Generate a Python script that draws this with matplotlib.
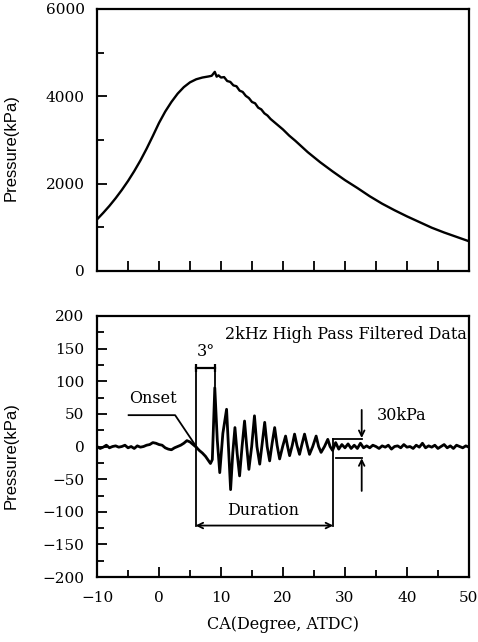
import matplotlib
matplotlib.use("Agg")
import matplotlib.pyplot as plt
from matplotlib.ticker import MultipleLocator

plt.rcParams['font.family'] = ['DejaVu Serif']

# ---- Top panel: cylinder pressure ----
ca_top = [-10, -9, -8, -7, -6, -5, -4, -3, -2, -1, 0, 1, 2, 3, 4, 5, 6, 7, 8, 8.5, 9,
          9.3, 9.6, 10, 10.5, 11, 11.5, 12, 12.5, 13, 13.5, 14, 14.5, 15, 15.5, 16,
          16.5, 17, 17.5, 18, 19, 20, 21, 22, 24, 26, 28, 30, 32, 34, 36, 38, 40, 42,
          44, 46, 48, 50]
p_top = [1180, 1330, 1490, 1665, 1855, 2060, 2285, 2530, 2800, 3090, 3390, 3650, 3870,
         4060, 4210, 4320, 4390, 4430, 4455, 4470, 4560, 4450, 4480, 4430, 4440, 4350,
         4330, 4250, 4230, 4130, 4100, 4010, 3960, 3870, 3840, 3740, 3700, 3610, 3560,
         3480, 3360, 3240, 3100, 2980, 2720, 2490, 2280, 2080, 1900, 1710, 1540, 1390,
         1250, 1120, 990, 880, 780, 680]

# ---- Bottom panel: 2 kHz high-pass filtered pressure ----
ca_bot = [-10, -9.5, -9, -8.5, -8, -7.5, -7, -6.5, -6, -5.5, -5, -4.5, -4, -3.5, -3,
          -2.5, -2, -1.5, -1, -0.5, 0, 0.5, 1, 1.5, 2, 2.5, 3, 3.5, 4, 4.5, 5, 5.5, 6,
          6.5, 7, 7.5, 8, 8.3, 8.6, 9.0, 9.4, 9.8, 10.3, 10.9, 11.2, 11.55, 11.9, 12.25,
          12.6, 13.0, 13.4, 13.8, 14.15, 14.5, 14.95, 15.4, 15.8, 16.25, 16.65, 17.05,
          17.45, 17.85, 18.25, 18.66, 19.05, 19.46, 19.95, 20.42, 20.75, 21.07, 21.5,
          21.87, 22.25, 22.67, 23.05, 23.48, 23.9, 24.28, 24.8, 25.35, 25.75, 26.15,
          26.7, 27.23, 27.6, 28.0, 28.5, 29, 29.5, 30, 30.5, 31, 31.5, 32, 32.5, 33,
          33.5, 34, 34.5, 35, 35.5, 36, 36.5, 37, 37.5, 38, 38.5, 39, 39.5, 40, 40.5,
          41, 41.5, 42, 42.5, 43, 43.5, 44, 44.5, 45, 45.5, 46, 46.5, 47, 47.5, 48,
          48.5, 49, 49.5, 50]
p_bot = [0, -3, -1, 2, -2, 0, 1, -1, 0, 2, -2, 0, -3, 1, -1,
         0, 2, 3, 6, 5, 3, 2, -2, -4, -5, -2, 0, 2, 5, 9, 7, 3, -1,
         -6, -10, -15, -22, -26, -20, 90, 10, -40, 20, 57, 0, -66, -10, 29,
         -10, -45, 0, 39, 0, -35, 0, 47, 0, -27, 5, 37,
         0, -22, 5, 29, 2, -19, 0, 16, 0, -14, 2,
         19, 2, -12, 3, 19, 2, -12, 0, 16, 0, -9,
         0, 11, 0, -6, 6, -4, 3, -2, 4, -3, 2, -3, 5, -2,
         1, -2, 2, 0, -3, 1, -1, 2, -4, 0, 1, -2, 3, -1, 0,
         -3, 2, -1, 5, -2, 1, -1, 2, -3, 0, 3, -2, 1, -3, 2,
         0, -2, 1, -1]

fig = plt.figure(figsize=(4.78, 6.42), dpi=100)
ax1 = fig.add_axes([0.203, 0.578, 0.778, 0.408])
ax2 = fig.add_axes([0.203, 0.101, 0.778, 0.407])

tickfs = 11
for ax in (ax1, ax2):
    for s in ax.spines.values():
        s.set_linewidth(1.6)
    ax.tick_params(direction='in', which='both', width=1.3, labelsize=tickfs)
    ax.tick_params(which='major', length=7)
    ax.tick_params(which='minor', length=5)
    ax.set_xlim(-10, 50)
    ax.xaxis.set_major_locator(MultipleLocator(5))

# top
ax1.plot(ca_top, p_top, color='black', lw=1.7)
ax1.set_ylim(0, 6000)
ax1.yaxis.set_major_locator(MultipleLocator(2000))
ax1.yaxis.set_minor_locator(MultipleLocator(1000))
ax1.tick_params(axis='x', labelbottom=False)
ax1.tick_params(axis='y', pad=9)
ax1.set_ylabel('Pressure(kPa)', family='Liberation Sans', fontsize=12)
ax1.yaxis.set_label_coords(-0.21, 0.47)

# bottom
ax2.plot(ca_bot, p_bot, color='black', lw=2.0)
ax2.set_ylim(-200, 200)
ax2.yaxis.set_major_locator(MultipleLocator(50))
ax2.yaxis.set_minor_locator(MultipleLocator(25))
ax2.xaxis.set_major_locator(MultipleLocator(10))
ax2.xaxis.set_minor_locator(MultipleLocator(5))
ax2.tick_params(axis='y', pad=9)
ax2.tick_params(axis='x', pad=10)
ax2.set_ylabel('Pressure(kPa)', family='Liberation Sans', fontsize=12)
ax2.yaxis.set_label_coords(-0.21, 0.464)
ax2.set_xlabel('CA(Degree, ATDC)', fontsize=11.5, labelpad=8)

txtfs = 11.5
ax2.text(49.6, 172, '2kHz High Pass Filtered Data', ha='right', va='center', fontsize=txtfs)
ax2.text(7.5, 146, '3°', ha='center', va='center', fontsize=txtfs)
ax2.text(-4.9, 73, 'Onset', ha='left', va='center', fontsize=txtfs)
ax2.text(16.8, -98, 'Duration', ha='center', va='center', fontsize=txtfs)
ax2.text(35.1, 47, '30kPa', ha='left', va='center', fontsize=txtfs)

lk = dict(color='black', lw=1.3)
# 3 degree bracket
ax2.plot([5.9, 9.0], [120, 120], color='black', lw=1.6, marker='|', ms=6, mew=1.6)
ax2.plot([5.9, 5.9], [120, -121], **lk)
ax2.plot([9.0, 9.0], [120, 92], **lk)
# onset leader
ax2.plot([-4.9, 2.6, 6.0], [48, 48, 0], **lk)
# duration
ax2.annotate('', xy=(5.9, -121), xytext=(28.1, -121),
             arrowprops=dict(arrowstyle='<->', color='black', lw=1.3,
                             shrinkA=0, shrinkB=0))
ax2.plot([28.1, 28.1], [-121, 12], **lk)
ax2.plot([28.1, 32.7], [12, 12], **lk)
ax2.plot([28.5, 32.7], [-17, -17], **lk)
# 30 kPa arrows
ax2.annotate('', xy=(32.7, 13), xytext=(32.7, 56),
             arrowprops=dict(arrowstyle='->', color='black', lw=1.3,
                             shrinkA=0, shrinkB=0))
ax2.annotate('', xy=(32.7, -18), xytext=(32.7, -68),
             arrowprops=dict(arrowstyle='->', color='black', lw=1.3,
                             shrinkA=0, shrinkB=0))

fig.savefig('out.png', dpi=100)
